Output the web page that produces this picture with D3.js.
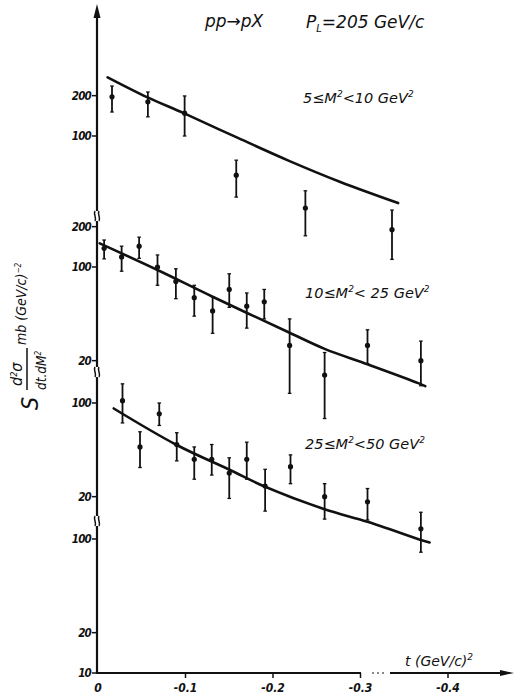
<!DOCTYPE html>
<html><head><meta charset="utf-8">
<script src="https://cdn.jsdelivr.net/npm/d3@7"></script>
<style>
body{margin:0;background:#fff;}
text{font-family:"DejaVu Sans Condensed","DejaVu Sans",sans-serif;font-style:italic;fill:#111;}
.wide{font-family:"DejaVu Sans",sans-serif;}
</style></head>
<body>
<svg id="c" width="522" height="700"></svg>
<script>
// ---- data ----
const xTicks = [0, -0.1, -0.2, -0.3, -0.4];
const xTickLabels = ["0", "-0.1", "-0.2", "-0.3", "-0.4"];

const panelLabels = [["5≤M","2","<10 GeV","2"],["10≤M","2","< 25 GeV","2"],["25≤M","2","<50 GeV","2"],null];
const panelTicks = [[200,100],[200,100,20],[100,20],[100,20,10]];

// panel 1: 5 <= M^2 < 10
const t1 = [-0.016, -0.057, -0.099, -0.158, -0.237, -0.336];
const v1 = [196, 180, 148, 51, 29, 20];
const lo1 = [151, 139, 100, 35, 18, 12];
const hi1 = [236, 213, 199, 66, 39, 28];
const ct1 = [-0.011, -0.056, -0.098, -0.158, -0.219, -0.277, -0.343];
const cv1 = [274, 195, 148, 98, 65, 45.4, 31.6];

// panel 2: 10 <= M^2 < 25
const t2 = [-0.007, -0.027, -0.047, -0.068, -0.089, -0.110, -0.131, -0.150, -0.170, -0.190, -0.219, -0.259, -0.308, -0.369];
const v2 = [138, 119, 143, 100, 78, 59, 47, 68, 51, 55, 26, 15.6, 26, 20];
const lo2 = [115, 93, 116, 73, 58, 43, 32, 50, 35, 41, 11.4, 7.4, 19, 13];
const hi2 = [159, 143, 167, 123, 97, 73, 60, 89, 64, 68, 41, 23, 34, 28];
const ct2 = [-0.002, -0.068, -0.131, -0.219, -0.259, -0.308, -0.366, -0.374];
const cv2 = [150, 95, 60, 32.3, 24.5, 18.8, 13.6, 12.9];

// panel 3: 25 <= M^2 < 50
const t3 = [-0.028, -0.048, -0.070, -0.090, -0.110, -0.130, -0.150, -0.170, -0.191, -0.220, -0.259, -0.308, -0.369];
const v3 = [104, 47, 83, 49, 38, 38, 30, 38, 24, 33.5, 20, 18.3, 11.5];
const lo3 = [71, 33, 68, 37, 27, 29, 19.4, 27, 15.6, 25, 13.6, 13.4, 7.7];
const hi3 = [139, 61, 100, 60, 47, 49, 39, 51, 32, 41, 25, 23, 15.3];
const ct3 = [-0.018, -0.090, -0.151, -0.191, -0.259, -0.308, -0.369, -0.379];
const cv3 = [91, 48.6, 31.6, 23.7, 16.1, 13, 9.5, 9.1];

// ---- layout ----
const svg = d3.select("#c");
const X0 = 97, AXY = 673;
const x = d3.scaleLinear().domain([0, -0.4]).range([98, 448]);
const decade = 134;
const y100 = [136, 267, 403, 539];
const ys = y100.map(c => d3.scaleLog().domain([10, 1000]).range([c + decade, c - decade]));
const ink = "#111";

// axes
svg.append("line").attr("x1", X0).attr("x2", X0).attr("y1", AXY + 1).attr("y2", 14)
  .attr("stroke", ink).attr("stroke-width", 2.2);
svg.append("path").attr("d", `M${X0-3.5},18 L${X0},4 L${X0+3.5},18 Z`).attr("fill", ink);

svg.append("line").attr("x1", X0).attr("x2", 361).attr("y1", AXY).attr("y2", AXY)
  .attr("stroke", ink).attr("stroke-width", 2);
svg.append("line").attr("x1", 372).attr("x2", 386).attr("y1", AXY).attr("y2", AXY)
  .attr("stroke", ink).attr("stroke-width", 1.2).attr("stroke-dasharray", "2,3");
svg.append("line").attr("x1", 390).attr("x2", 505).attr("y1", AXY).attr("y2", AXY)
  .attr("stroke", ink).attr("stroke-width", 2);
svg.append("path").attr("d", `M500,${AXY-3} L514,${AXY} L500,${AXY+3} Z`).attr("fill", ink);

xTicks.forEach((t, i) => {
  if (i > 0) svg.append("line").attr("x1", x(t)).attr("x2", x(t)).attr("y1", AXY).attr("y2", AXY + 5)
    .attr("stroke", ink).attr("stroke-width", 1.5);
  svg.append("text").attr("x", x(t)).attr("y", 692).attr("text-anchor", "middle")
    .attr("font-size", 12).attr("font-weight", "bold").text(xTickLabels[i]);
});

// x label
const xl = svg.append("text").attr("class", "wide").attr("x", 405).attr("y", 666).attr("font-size", 14);
xl.append("tspan").text("t (GeV/c)");
xl.append("tspan").attr("dy", -6).attr("font-size", 9).text("2");

// y ticks
panelTicks.forEach((ticks, p) => {
  ticks.forEach(v => {
    const yy = ys[p](v);
    svg.append("line").attr("x1", X0 - 5).attr("x2", X0).attr("y1", yy).attr("y2", yy)
      .attr("stroke", ink).attr("stroke-width", 1.5);
    svg.append("text").attr("x", X0 - 6).attr("y", yy + 4).attr("text-anchor", "end")
      .attr("font-size", 11.5).attr("font-weight", "bold").attr("letter-spacing", -0.8).text(v);
  });
});

// axis breaks (two short wavy strokes across the axis)
[216, 372, 521].forEach(yy => {
  svg.append("rect").attr("x", X0 - 3).attr("y", yy - 5).attr("width", 6).attr("height", 10).attr("fill", "#fff");
  [-2, 2].forEach(dx => {
    const cx = X0 + dx;
    svg.append("path")
      .attr("d", `M${cx},${yy-5} C${cx-2},${yy-2} ${cx+2},${yy+2} ${cx},${yy+5}`)
      .attr("fill", "none").attr("stroke", ink).attr("stroke-width", 1.5);
  });
});

// panels
const panels = [
  {t: t1, v: v1, lo: lo1, hi: hi1, ct: ct1, cv: cv1},
  {t: t2, v: v2, lo: lo2, hi: hi2, ct: ct2, cv: cv2},
  {t: t3, v: v3, lo: lo3, hi: hi3, ct: ct3, cv: cv3}
];
panels.forEach((P, p) => {
  const y = ys[p];
  const line = d3.line().x(d => x(d[0])).y(d => y(d[1])).curve(d3.curveCatmullRom.alpha(0.5));
  svg.append("path").datum(d3.zip(P.ct, P.cv)).attr("d", line)
    .attr("fill", "none").attr("stroke", ink).attr("stroke-width", 2.6).attr("stroke-linecap", "round");
  const g = svg.append("g");
  P.t.forEach((t, i) => {
    const xx = x(t);
    g.append("line").attr("x1", xx).attr("x2", xx).attr("y1", y(P.lo[i])).attr("y2", y(P.hi[i]))
      .attr("stroke", ink).attr("stroke-width", 1.8);
    [P.lo[i], P.hi[i]].forEach(e => g.append("line").attr("x1", xx - 1.8).attr("x2", xx + 1.8)
      .attr("y1", y(e)).attr("y2", y(e)).attr("stroke", ink).attr("stroke-width", 1.3));
    g.append("circle").attr("cx", xx).attr("cy", y(P.v[i])).attr("r", 2.6).attr("fill", ink);
  });
});

// panel labels
const labelPos = [[303, 103], [305, 298], [305, 449]];
panelLabels.forEach((L, p) => {
  if (!L) return;
  const tx = svg.append("text").attr("class", "wide").attr("x", labelPos[p][0]).attr("y", labelPos[p][1]).attr("font-size", 14.5);
  tx.append("tspan").text(L[0]);
  tx.append("tspan").attr("dy", -6).attr("font-size", 9).text(L[1]);
  tx.append("tspan").attr("dy", 6).text(L[2]);
  tx.append("tspan").attr("dy", -6).attr("font-size", 9).text(L[3]);
});

// title
svg.append("text").attr("class", "wide").attr("x", 205).attr("y", 27).attr("font-size", 17).text("pp→pX");
const tt = svg.append("text").attr("class", "wide").attr("x", 306).attr("y", 28).attr("font-size", 17);
tt.append("tspan").text("P");
tt.append("tspan").attr("dy", 4).attr("font-size", 10).text("L");
tt.append("tspan").attr("dy", -4).text("=205 GeV/c");

// y label
const gl = svg.append("g").attr("transform", "translate(30,410) rotate(-90)");
gl.append("text").attr("x", 0).attr("y", 8).attr("font-size", 23).text("S");
const num = gl.append("text").attr("x", 24).attr("y", -8).attr("font-size", 16);
num.append("tspan").text("d");
num.append("tspan").attr("dy", -5).attr("font-size", 9).text("2");
num.append("tspan").attr("dy", 5).text("σ");
gl.append("line").attr("x1", 20).attr("x2", 62).attr("y1", -3).attr("y2", -3).attr("stroke", ink).attr("stroke-width", 1.5);
const den = gl.append("text").attr("x", 20).attr("y", 16).attr("font-size", 13.5);
den.append("tspan").text("dt.dM");
den.append("tspan").attr("dy", -5).attr("font-size", 8).text("2");
const un = gl.append("text").attr("x", 65).attr("y", -4).attr("font-size", 14);
un.append("tspan").text("mb (GeV/c)");
un.append("tspan").attr("dy", -5).attr("font-size", 8).text("−2");
</script>
</body></html>
